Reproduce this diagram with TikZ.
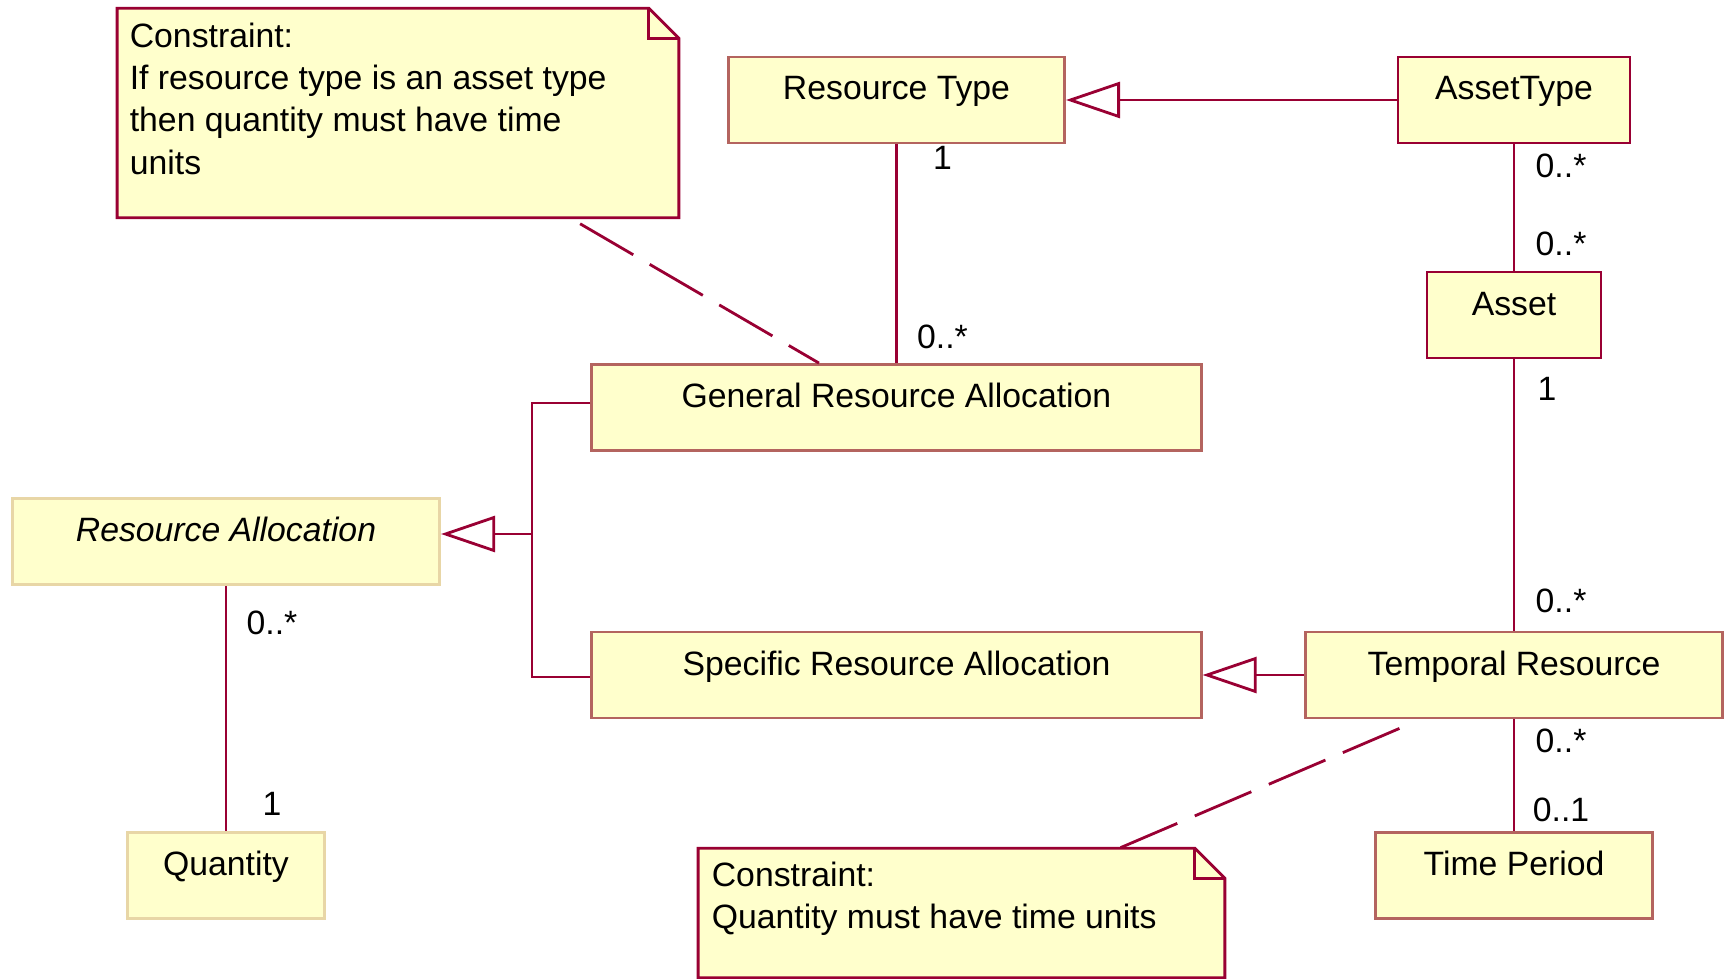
\documentclass[tikz,border=0pt]{standalone}
\usepackage{fontspec}
\setmainfont{Liberation Sans}
\usetikzlibrary{arrows.meta,positioning}
\definecolor{umlRed}{RGB}{153,0,51}
\definecolor{umlFill}{RGB}{255,255,204}
\definecolor{umlBrown}{RGB}{180,100,95}
\definecolor{umlPale}{RGB}{232,214,166}
\newcommand{\umlFont}{\fontsize{9.6}{12}\selectfont}
\newcommand{\foldSize}{0.3cm}
\newcommand{\umlLine}{0.8pt}
\tikzset{
  umlClass/.style={draw=umlBrown, fill=umlFill, line width=\umlLine, inner ysep=0pt,
    text height=0.43cm, text depth=0.43cm, font=\umlFont},
  umlNote/.style={inner sep=0pt},
  noteText/.style={inner sep=0pt, align=left, anchor=north west, font=\umlFont},
  noteBorder/.style={draw=umlRed, fill=umlFill, line width=\umlLine},
  assocLine/.style={umlRed, line width=\umlLine},
  genArrow/.style={umlRed, line width=\umlLine, -{Triangle[open, length=0.54cm, width=0.36cm]}},
  noteLink/.style={umlRed, line width=\umlLine, dash pattern=on 17.5pt off 5.4pt},
  multLabel/.style={inner sep=0pt, text=black, font=\umlFont}
}
\newcommand{\noteShape}[1]{%
  \draw[noteBorder] (#1.south west) |- ([xshift=-\foldSize]#1.north east)
    -- ([yshift=-\foldSize]#1.north east) -- (#1.south east) -- cycle;
  \draw[noteBorder, fill=none] ([xshift=-\foldSize]#1.north east)
    |- ([yshift=-\foldSize]#1.north east);}

\begin{document}
\begin{tikzpicture}[x=0.01cm, y=-0.01cm]
\useasboundingbox (0,0) rectangle (1724,979);

\node[umlClass, minimum width=3.36cm] (resType) at (896.5,100) {Resource Type};
\node[umlClass, minimum width=2.32cm, draw=umlRed] (assetType) at (1514,100) {AssetType};
\node[umlClass, minimum width=1.74cm, draw=umlRed] (asset) at (1514,315) {Asset};
\node[umlClass, minimum width=6.09cm] (genAlloc) at (896.5,407.5) {General Resource Allocation};
\node[umlClass, minimum width=4.27cm, draw=umlPale] (resAlloc) at (226,541.5) {\itshape Resource Allocation};
\node[umlClass, minimum width=6.09cm] (specAlloc) at (896.5,675) {Specific Resource Allocation};
\node[umlClass, minimum width=4.17cm] (tempRes) at (1514,675) {Temporal Resource};
\node[umlClass, minimum width=1.97cm, draw=umlPale] (quantity) at (226,875.5) {Quantity};
\node[umlClass, minimum width=2.77cm] (timePeriod) at (1514,875.5) {Time Period};

\node[umlNote, minimum width=5.6cm, minimum height=2.08cm] (noteAsset) at (398,113) {};
\noteShape{noteAsset}
\node[noteText] (noteAssetText) at ([xshift=0.12cm, yshift=-0.14cm]noteAsset.north west)
  {Constraint:\\If resource type is an asset type\\then quantity must have time\\units};

\node[umlNote, minimum width=5.25cm, minimum height=1.28cm] (noteTime) at (961.5,913) {};
\noteShape{noteTime}
\node[noteText] (noteTimeText) at ([xshift=0.13cm, yshift=-0.13cm]noteTime.north west)
  {Constraint:\\Quantity must have time units};

\draw[genArrow] (assetType) -- (resType);
\draw[genArrow] (tempRes) -- (specAlloc);
\coordinate (genJoin) at (532,534);
\draw[assocLine] ([yshift=0.045cm]genAlloc.west) -| (genJoin) |- ([yshift=-0.02cm]specAlloc.west);
\draw[genArrow] (genJoin) -- (resAlloc.east |- genJoin);

\draw[assocLine] (resType) -- (genAlloc)
  node[multLabel, pos=0.06, xshift=0.46cm] {1}
  node[multLabel, pos=0.88, xshift=0.46cm] {0..*};
\draw[assocLine] (assetType) -- (asset)
  node[multLabel, pos=0.17, xshift=0.47cm] {0..*}
  node[multLabel, pos=0.79, xshift=0.47cm] {0..*};
\draw[assocLine] (asset) -- (tempRes)
  node[multLabel, pos=0.11, xshift=0.33cm] {1}
  node[multLabel, pos=0.89, xshift=0.47cm] {0..*};
\draw[assocLine] (tempRes) -- (timePeriod)
  node[multLabel, pos=0.19, xshift=0.47cm] {0..*}
  node[multLabel, pos=0.81, xshift=0.47cm] {0..1};
\draw[assocLine] (resAlloc) -- (quantity)
  node[multLabel, pos=0.15, xshift=0.46cm] {0..*}
  node[multLabel, pos=0.89, xshift=0.46cm] {1};

\draw[noteLink] ([xshift=1.82cm, yshift=-0.06cm]noteAsset.south) -- ([xshift=-0.775cm]genAlloc.north);
\draw[noteLink] ([xshift=-1.145cm, yshift=-0.09cm]tempRes.south) -- ([xshift=1.575cm]noteTime.north);
\end{tikzpicture}
\end{document}
